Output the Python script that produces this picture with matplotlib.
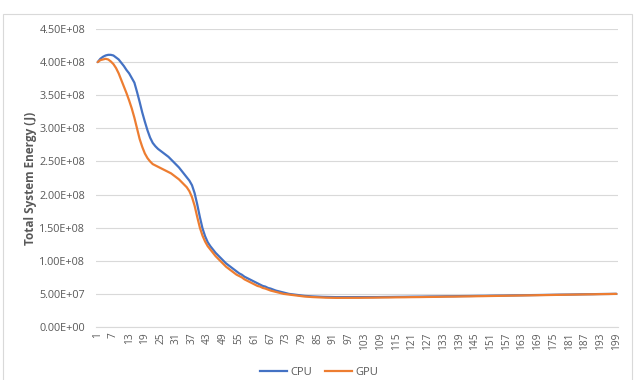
import matplotlib
matplotlib.use("Agg")
import matplotlib.pyplot as plt
from matplotlib.patches import Rectangle
from matplotlib.lines import Line2D

# ---------------- data (values in units of 1e8 J) ----------------
categories = list(range(1, 200))

cpu_e8 = [
    4.00, 4.05, 4.08, 4.10, 4.11, 4.11, 4.10, 4.07, 4.04, 3.99,
    3.94, 3.88, 3.83, 3.76, 3.69, 3.55, 3.40, 3.24, 3.10, 2.97,
    2.86, 2.78, 2.73, 2.69, 2.66, 2.63, 2.60, 2.57, 2.53, 2.49,
    2.45, 2.41, 2.36, 2.31, 2.26, 2.21, 2.14, 2.02, 1.85, 1.66,
    1.49, 1.37, 1.28, 1.22, 1.17, 1.12, 1.08, 1.04, 1.00, 0.96,
    0.93, 0.90, 0.87, 0.84, 0.81, 0.79, 0.76, 0.74, 0.72, 0.70,
    0.68, 0.66, 0.64, 0.62, 0.61, 0.59, 0.58, 0.565, 0.55, 0.54,
    0.53, 0.52, 0.51, 0.50, 0.495, 0.49, 0.485, 0.48, 0.475, 0.47,
    0.467, 0.464, 0.462, 0.460, 0.458, 0.456, 0.455, 0.454, 0.453, 0.452,
    0.452, 0.451, 0.451, 0.450, 0.450, 0.450, 0.450, 0.450, 0.450, 0.450,
    0.450, 0.450, 0.451, 0.451, 0.451, 0.452, 0.452, 0.452, 0.453, 0.453,
    0.453, 0.454, 0.454, 0.455, 0.455, 0.455, 0.456, 0.456, 0.457, 0.457,
    0.458, 0.458, 0.458, 0.459, 0.459, 0.460, 0.460, 0.461, 0.461, 0.462,
    0.462, 0.463, 0.463, 0.464, 0.464, 0.465, 0.465, 0.466, 0.466, 0.467,
    0.467, 0.468, 0.468, 0.469, 0.469, 0.470, 0.470, 0.471, 0.471, 0.472,
    0.472, 0.473, 0.474, 0.474, 0.475, 0.475, 0.476, 0.476, 0.477, 0.478,
    0.478, 0.479, 0.479, 0.480, 0.481, 0.481, 0.482, 0.482, 0.483, 0.484,
    0.484, 0.485, 0.485, 0.486, 0.487, 0.487, 0.488, 0.489, 0.489, 0.490,
    0.490, 0.491, 0.492, 0.492, 0.493, 0.494, 0.494, 0.495, 0.495, 0.496,
    0.497, 0.497, 0.498, 0.498, 0.499, 0.499, 0.500, 0.500, 0.501,
]

gpu_e8 = [
    4.00, 4.03, 4.04, 4.05, 4.04, 4.01, 3.97, 3.91, 3.83, 3.73,
    3.63, 3.53, 3.42, 3.30, 3.16, 3.00, 2.84, 2.72, 2.62, 2.55,
    2.50, 2.46, 2.44, 2.42, 2.40, 2.38, 2.36, 2.34, 2.32, 2.29,
    2.26, 2.23, 2.19, 2.15, 2.11, 2.05, 1.96, 1.83, 1.66, 1.50,
    1.38, 1.29, 1.22, 1.17, 1.12, 1.07, 1.03, 0.99, 0.95, 0.91,
    0.88, 0.85, 0.82, 0.79, 0.77, 0.75, 0.72, 0.70, 0.68, 0.66,
    0.64, 0.62, 0.61, 0.59, 0.58, 0.565, 0.55, 0.54, 0.53, 0.52,
    0.51, 0.50, 0.495, 0.49, 0.485, 0.48, 0.475, 0.47, 0.465, 0.46,
    0.457, 0.454, 0.452, 0.450, 0.448, 0.446, 0.444, 0.443, 0.442, 0.441,
    0.441, 0.440, 0.440, 0.440, 0.440, 0.440, 0.440, 0.440, 0.441, 0.441,
    0.441, 0.442, 0.442, 0.442, 0.443, 0.443, 0.444, 0.444, 0.445, 0.445,
    0.446, 0.446, 0.447, 0.447, 0.448, 0.448, 0.449, 0.449, 0.450, 0.450,
    0.451, 0.451, 0.452, 0.452, 0.453, 0.453, 0.454, 0.454, 0.455, 0.455,
    0.456, 0.456, 0.457, 0.458, 0.458, 0.459, 0.459, 0.460, 0.461, 0.461,
    0.462, 0.462, 0.463, 0.464, 0.464, 0.465, 0.465, 0.466, 0.467, 0.467,
    0.468, 0.469, 0.469, 0.470, 0.471, 0.471, 0.472, 0.473, 0.473, 0.474,
    0.475, 0.475, 0.476, 0.477, 0.477, 0.478, 0.479, 0.479, 0.480, 0.481,
    0.481, 0.482, 0.483, 0.483, 0.484, 0.485, 0.485, 0.486, 0.487, 0.487,
    0.488, 0.489, 0.489, 0.490, 0.491, 0.491, 0.492, 0.493, 0.493, 0.494,
    0.495, 0.495, 0.496, 0.497, 0.497, 0.498, 0.499, 0.499, 0.500,
]

series_names = ["CPU", "GPU"]
series_colors = ["#4472C4", "#ED7D31"]
y_ticks = [0.0, 0.5e8, 1.0e8, 1.5e8, 2.0e8, 2.5e8, 3.0e8, 3.5e8, 4.0e8, 4.5e8]
y_label = "Total System Energy (J)"
label_step = 6

# ---------------- figure ----------------
plt.rcParams['font.family'] = ['Open Sans', 'DejaVu Sans']
W, H = 643, 380
fig = plt.figure(figsize=(W / 100, H / 100), dpi=100)
fig.patch.set_facecolor("white")

# chart-area border
fig.patches.append(Rectangle((3 / W, -0.01), (632 - 3) / W, 1 - 14 / H + 0.01,
                             transform=fig.transFigure, fill=False,
                             edgecolor="#d9d9d9", linewidth=0.8))

left, right = 96.4 / W, 617.7 / W
bottom, top = 1 - 327 / H, 1 - 29 / H
ax = fig.add_axes([left, bottom, right - left, top - bottom])

grey = "#595959"
for name, vals, col in zip(series_names, [cpu_e8, gpu_e8], series_colors):
    ax.plot(categories, [v * 1e8 for v in vals], color=col, lw=1.6,
            solid_capstyle="round", solid_joinstyle="round", label=name)

ax.set_xlim(0.5, len(categories) + 0.5)
ax.set_ylim(0, 4.5e8)
ax.set_yticks(y_ticks)
ax.set_yticklabels([f"{v:.2E}" for v in y_ticks], color=grey, fontsize=7.8)
ticks = categories[::label_step]
ax.set_xticks(ticks)
ax.set_xticklabels([str(t) for t in ticks], rotation=90, color=grey, fontsize=7.3)
ax.tick_params(axis="x", length=0, pad=4)
ax.tick_params(axis="y", length=0, pad=8)
ax.grid(axis="y", color="#d9d9d9", linewidth=0.8)
ax.set_axisbelow(True)
for s in ["top", "right", "left"]:
    ax.spines[s].set_visible(False)
ax.spines["bottom"].set_color("#d9d9d9")
ax.spines["bottom"].set_linewidth(0.8)

ax.set_ylabel(y_label, color=grey, fontsize=8.5, fontweight="bold")
ax.yaxis.set_label_coords(-(96.4 - 37) / (W * (right - left)), 0.5)

handles = [Line2D([], [], color=c, lw=1.6) for c in series_colors]
fig.legend(handles, series_names, loc="center", bbox_to_anchor=(319 / W, 1 - 372.5 / H),
           ncol=2, frameon=False, fontsize=8, handlelength=2.4, handletextpad=0.3,
           columnspacing=1.2, labelcolor=grey)

fig.savefig("out.png", dpi=100, facecolor="white")
